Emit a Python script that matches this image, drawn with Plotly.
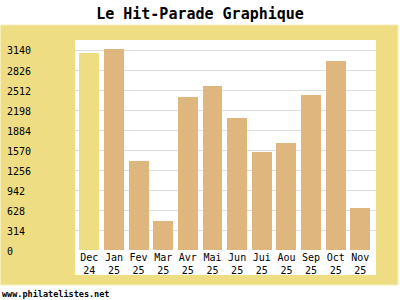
import plotly.graph_objects as go

months = ["Dec", "Jan", "Fev", "Mar", "Avr", "Mai", "Jun", "Jui", "Aou", "Sep", "Oct", "Nov"]
years = ["24", "25", "25", "25", "25", "25", "25", "25", "25", "25", "25", "25"]
values = [3098, 3150, 1397, 455, 2402, 2575, 2072, 1539, 1680, 2434, 2967, 659]
tick_values = [0, 314, 628, 942, 1256, 1570, 1884, 2198, 2512, 2826, 3140]
tick_labels = [str(v) for v in tick_values]

categories = [f"{m}<br>{y}" for m, y in zip(months, years)]
yellow = "#EEDD82"
bar_col = "#DEB67E"
colors = [yellow] + [bar_col] * (len(values) - 1)

mono = "DejaVu Sans Mono"

fig = go.Figure(go.Bar(x=categories, y=values, marker=dict(color=colors, line=dict(width=0)),
                       width=0.81, hoverinfo="skip"))

W, H = 400, 300
def px_y(y):
    return (H - y) / H

shapes = [
    dict(type="rect", xref="paper", yref="paper", x0=0.5 / W, x1=398 / W, y0=px_y(285), y1=px_y(25),
         fillcolor=yellow, line=dict(color="#F6EDB8", width=1), layer="below"),
    dict(type="rect", xref="paper", yref="paper", x0=75 / W, x1=376 / W, y0=px_y(275), y1=px_y(40),
         fillcolor="white", line=dict(width=0), layer="below"),
]

annotations = []
for v, t in zip(tick_values, tick_labels):
    annotations.append(dict(x=5 / W, xref="paper", y=v, yref="y", text=t, showarrow=False,
                            xanchor="left", yanchor="middle", yshift=-1,
                            font=dict(family=mono, size=10, color="black")))
annotations.append(dict(x=0, xref="paper", y=px_y(294), yref="paper", text="<b>www.philatelistes.net</b>",
                        showarrow=False, xanchor="left", yanchor="middle",
                        font=dict(family=mono, size=8.5, color="black")))

fig.update_layout(
    width=W, height=H, margin=dict(l=0, r=0, t=0, b=0),
    paper_bgcolor="white", plot_bgcolor="rgba(0,0,0,0)",
    title=dict(text="<b>Le Hit-Parade Graphique</b>", x=0.5, xanchor="center", y=px_y(14), yanchor="middle",
               font=dict(family=mono, size=15, color="black")),
    xaxis=dict(domain=[75 / W, 376 / W], range=[-0.58, 11.636], showgrid=False, zeroline=False,
               showline=False, ticks="", tickfont=dict(family=mono, size=10, color="black"),
               fixedrange=True),
    yaxis=dict(domain=[px_y(250), px_y(40)], range=[0, 3297], tickvals=tick_values, showticklabels=False,
               showgrid=True, gridcolor="#DDDDDD", gridwidth=1, zeroline=False, showline=False,
               fixedrange=True),
    shapes=shapes, annotations=annotations, showlegend=False, bargap=0,
)

fig.write_html("out.html")
